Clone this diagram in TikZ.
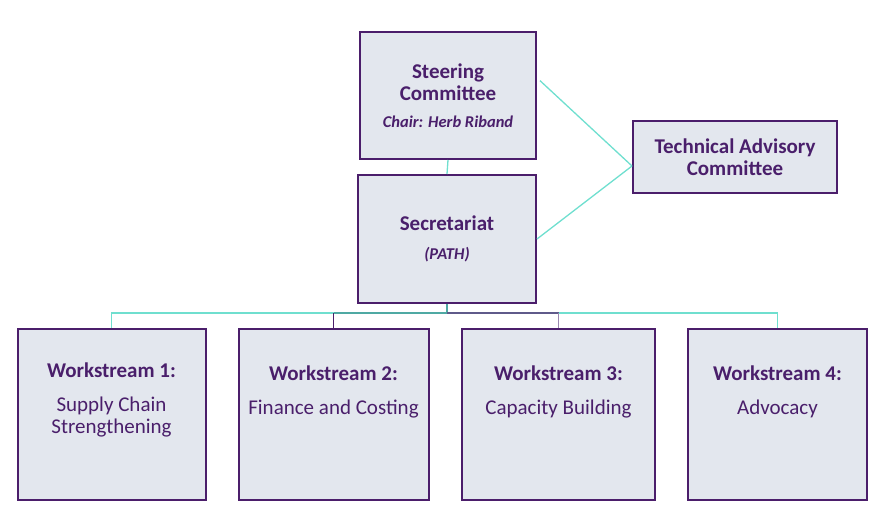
\documentclass[tikz,border=0pt]{standalone}
\usepackage{fontspec}
\setmainfont{Carlito}
\usetikzlibrary{calc}

\definecolor{boxfill}{HTML}{E3E7EE}
\definecolor{boxline}{HTML}{4B1E6B}
\definecolor{txtpurple}{HTML}{4A1F6B}
\definecolor{tealline}{HTML}{6FDFCF}
\definecolor{tealdark}{HTML}{4FA9A3}
\definecolor{greyline}{HTML}{5F5A8A}
\definecolor{lilacline}{HTML}{9A88B0}

\tikzset{
  orgbox/.style={draw=boxline, fill=boxfill, line width=2pt, inner sep=0pt, align=center,
    text=txtpurple, font=\fontsize{21}{22.5}\selectfont\bfseries},
  wstitle/.style={anchor=north, align=center, text=txtpurple, inner sep=0pt,
    font=\fontsize{21}{22.5}\selectfont},
  link/.style={draw=tealline, line width=1.3pt}
}

\begin{document}
\begin{tikzpicture}[x=1pt, y=-1pt]
\useasboundingbox (0,0) rectangle (880,530);

% Top boxes
\node[orgbox, minimum width=176, minimum height=127] (steer) at (448,95.5)
  {Steering\\Committee\\[4pt]{\fontsize{16.5}{18}\selectfont\itshape Chair: Herb Riband}};
\node[orgbox, minimum width=178, minimum height=128] (sec) at (447,239)
  {Secretariat\\[7pt]{\fontsize{16.5}{18}\selectfont\itshape (PATH)}};
\node[orgbox, minimum width=204, minimum height=72] (tac) at (735,157)
  {Technical Advisory\\Committee};

% Workstream boxes
\foreach \n/\x/\w in {1/111.5/188, 2/333.5/190, 3/558.5/193, 4/777.5/179} {
  \node[orgbox, minimum width=\w, minimum height=171] (ws\n) at (\x,414.5) {};
}
\node[wstitle] (t1) at ($(ws1.north)+(0,35)$)
  {\textbf{Workstream 1:}\\[11pt]Supply Chain\\Strengthening};
\node[wstitle] (t2) at ($(ws2.north)+(0,38)$)
  {\textbf{Workstream 2:}\\[11pt]Finance and Costing};
\node[wstitle] (t3) at ($(ws3.north)+(0,38)$)
  {\textbf{Workstream 3:}\\[11pt]Capacity Building};
\node[wstitle] (t4) at ($(ws4.north)+(0,38)$)
  {\textbf{Workstream 4:}\\[11pt]Advocacy};

% Connectors
\coordinate (bus) at (447,313);
\draw[link] (steer.south) -- (sec.north);
\draw[link] ($(steer.north east)!0.385!(steer.south east)+(3,0)$) -- ($(tac.west)+(0,9)$);
\draw[link] (sec.east) -- ($(tac.west)+(0,9)$);
\draw[link] (sec.south |- bus) -| (ws1.north);
\draw[link] (sec.south |- bus) -| (ws4.north);
\draw[draw=tealdark, line width=1.3pt] (sec.south) -- (sec.south |- bus) -- (ws2.north |- bus);
\draw[draw=boxline, line width=1pt] (ws2.north |- bus) -- (ws2.north);
\draw[draw=greyline, line width=1.3pt] (sec.south |- bus) -- (ws3.north |- bus);
\draw[draw=lilacline, line width=1pt] (ws3.north |- bus) -- (ws3.north);

\end{tikzpicture}
\end{document}
